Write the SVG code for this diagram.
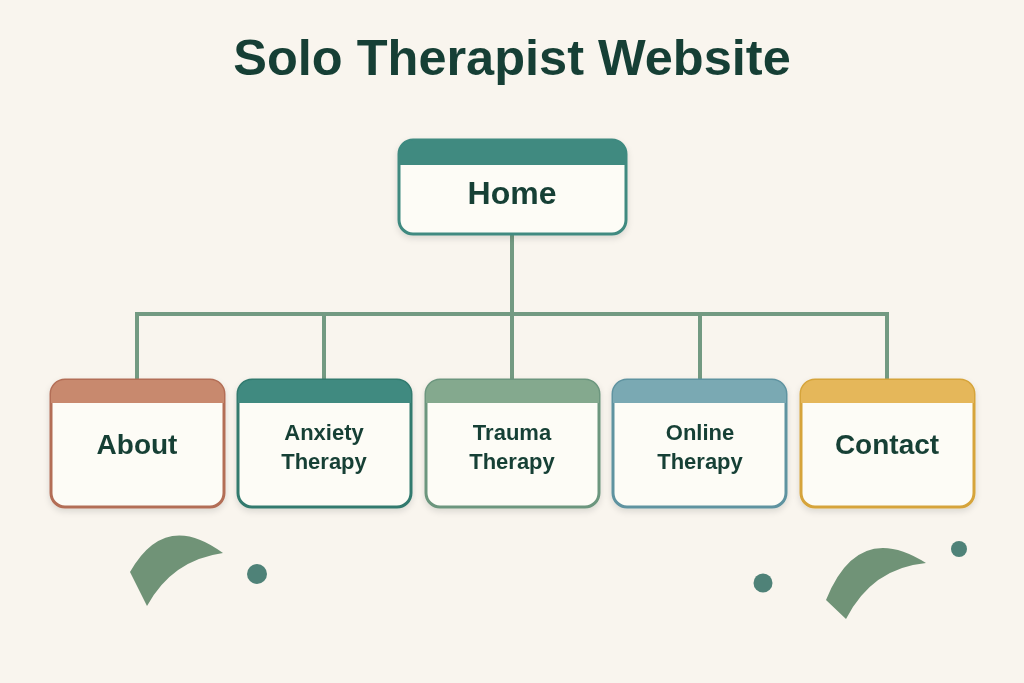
<svg xmlns="http://www.w3.org/2000/svg" width="1024" height="683" viewBox="0 0 1024 683">
<defs>
<style>
.t{font-family:"Liberation Sans",Arial,sans-serif;font-weight:bold;fill:#163f35;text-anchor:middle}
.body{fill:#fdfcf6}
.c{fill:none;stroke:#739a82;stroke-width:4}
</style>
<filter id="sh" x="-10%" y="-10%" width="120%" height="130%"><feDropShadow dx="0" dy="3" stdDeviation="3" flood-color="#000" flood-opacity="0.12"/></filter>
</defs>
<rect width="1024" height="683" fill="#f9f5ee"/>
<text class="t" x="512" y="75" font-size="50.5">Solo Therapist Website</text>
<g id="connectors">
<path class="c" d="M512,234 V314 M137,380 V314 H887 V380 M324,314 V380 M512,314 V380 M700,314 V380"/>
</g>
<g id="home" filter="url(#sh)">
<rect x="399" y="140" width="227" height="94" rx="14" fill="#fdfcf6" stroke="#3f8a80" stroke-width="3"/>
<path d="M399,165 V154 A14,14 0 0 1 413,140 H612 A14,14 0 0 1 626,154 V165 Z" fill="#3f8a80"/>
<text class="t" x="512" y="204" font-size="32">Home</text>
</g>
<g id="about" filter="url(#sh)">
<rect x="51" y="380" width="173" height="127" rx="14" fill="#fdfcf6" stroke="#b36e56" stroke-width="3"/>
<path d="M51,403 V394 A14,14 0 0 1 65,380 H210 A14,14 0 0 1 224,394 V403 Z" fill="#c8896e"/>
<text class="t" x="137" y="454" font-size="28">About</text>
</g>
<g id="anxiety" filter="url(#sh)">
<rect x="238" y="380" width="173" height="127" rx="14" fill="#fdfcf6" stroke="#327a6e" stroke-width="3"/>
<path d="M238,403 V394 A14,14 0 0 1 252,380 H397 A14,14 0 0 1 411,394 V403 Z" fill="#3f8a80"/>
<text class="t" x="324" y="440" font-size="22">Anxiety</text>
<text class="t" x="324" y="469" font-size="22">Therapy</text>
</g>
<g id="trauma" filter="url(#sh)">
<rect x="426" y="380" width="173" height="127" rx="14" fill="#fdfcf6" stroke="#6c967e" stroke-width="3"/>
<path d="M426,403 V394 A14,14 0 0 1 440,380 H585 A14,14 0 0 1 599,394 V403 Z" fill="#84a98e"/>
<text class="t" x="512" y="440" font-size="22">Trauma</text>
<text class="t" x="512" y="469" font-size="22">Therapy</text>
</g>
<g id="online" filter="url(#sh)">
<rect x="613" y="380" width="173" height="127" rx="14" fill="#fdfcf6" stroke="#5f93a0" stroke-width="3"/>
<path d="M613,403 V394 A14,14 0 0 1 627,380 H772 A14,14 0 0 1 786,394 V403 Z" fill="#7aa9b3"/>
<text class="t" x="700" y="440" font-size="22">Online</text>
<text class="t" x="700" y="469" font-size="22">Therapy</text>
</g>
<g id="contact" filter="url(#sh)">
<rect x="801" y="380" width="173" height="127" rx="14" fill="#fdfcf6" stroke="#d6a43a" stroke-width="3"/>
<path d="M801,403 V394 A14,14 0 0 1 815,380 H960 A14,14 0 0 1 974,394 V403 Z" fill="#e5b75a"/>
<text class="t" x="887" y="454" font-size="28">Contact</text>
</g>
<g fill="#709377">
<path d="M147,606 L130,572 Q165,510 223,553 Q172,560 147,606 Z"/>
<path d="M846,619 L826,600 Q858,520 926,563 Q872,568 846,619 Z"/>
</g>
<g fill="#4f8278">
<circle cx="257" cy="574" r="10"/>
<circle cx="763" cy="583" r="9.5"/>
<circle cx="959" cy="549" r="8"/>
</g>
</svg>
